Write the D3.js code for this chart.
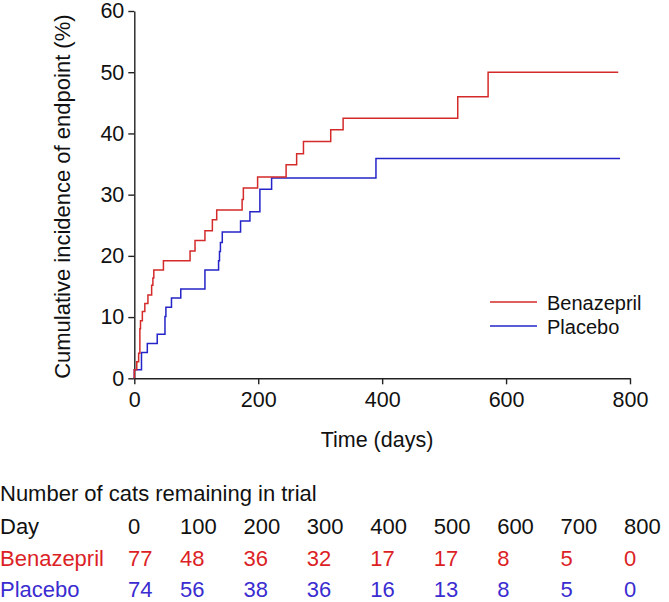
<!DOCTYPE html>
<html>
<head>
<meta charset="utf-8">
<script src="https://cdn.jsdelivr.net/npm/d3@7"></script>
<style>
  html, body { margin: 0; padding: 0; background: #fff; }
  svg text { font-family: "Liberation Sans", Arial, Helvetica, sans-serif; }
</style>
</head>
<body>
<svg id="chart" width="669" height="602"></svg>
<script>
// ---- Data ----
const benazeprilDays = [0, 0, 4, 7, 9, 10, 13, 17, 22, 28, 30, 31.5, 47, 90, 98, 114, 126, 133, 174, 176, 199, 245, 262, 273, 317, 337, 522, 571, 781];
const benazeprilPct  = [0, 1.4, 2.7, 4.1, 8.1, 9.4, 10.9, 12.2, 13.6, 15.2, 16.4, 17.7, 19.2, 20.8, 22.5, 24.1, 25.9, 27.5, 29.2, 31.1, 32.9, 34.9, 36.7, 38.7, 40.6, 42.5, 46.0, 50.0, 50.0];
const placeboDays = [0, 0, 11.6, 21, 37, 49.5, 51, 60, 75, 114, 136, 137.5, 139, 142, 171.5, 186.6, 202.7, 221.6, 390, 784];
const placeboPct  = [0, 1.4, 4.2, 5.7, 7.2, 10.1, 11.6, 13.1, 14.6, 17.7, 19.2, 20.7, 22.2, 23.9, 25.7, 27.2, 30.9, 32.7, 35.9, 35.9];

const xTicks = [0, 200, 400, 600, 800];
const yTicks = [0, 10, 20, 30, 40, 50, 60];

const seriesNames = ["Benazepril", "Placebo"];
const tableTitle = "Number of cats remaining in trial";
const tableDays = [0, 100, 200, 300, 400, 500, 600, 700, 800];
const benazeprilAtRisk = [77, 48, 36, 32, 17, 17, 8, 5, 0];
const placeboAtRisk    = [74, 56, 38, 36, 16, 13, 8, 5, 0];

// ---- Styles ----
const RED_LINE = "#d42a2a", BLUE_LINE = "#2424c8";
const RED_TEXT = "#dc1f26", BLUE_TEXT = "#3a2cd0";
const AXIS = "#222";

const svg = d3.select("#chart");
const x = d3.scaleLinear().domain([0, 800]).range([134.3, 630]);
const y = d3.scaleLinear().domain([0, 60]).range([378.3, 11]);

// Axes
const xAxis = svg.append("g").attr("transform", `translate(0,${y(0)})`)
  .call(d3.axisBottom(x).tickValues(xTicks).tickSize(6).tickPadding(7).tickSizeOuter(0));
const yAxis = svg.append("g").attr("transform", `translate(${x(0)},0)`)
  .call(d3.axisLeft(y).tickValues(yTicks).tickSize(6).tickPadding(4).tickSizeOuter(0));
[xAxis, yAxis].forEach(g => {
  g.selectAll("path, line").attr("stroke", AXIS).attr("stroke-width", 1.4);
  g.selectAll("text").attr("fill", "#111").style("font-size", "21.5px")
   .style("font-family", '"Liberation Sans", Arial, sans-serif');
});

// Axis titles
svg.append("text").attr("x", 377).attr("y", 447).attr("text-anchor", "middle")
  .style("font-size", "21.5px").attr("fill", "#111").text("Time (days)");
svg.append("text").attr("transform", `translate(70,${(y(0)+y(60))/2 + 2}) rotate(-90)`)
  .attr("text-anchor", "middle").style("font-size", "22px").attr("fill", "#111")
  .text("Cumulative incidence of endpoint (%)");

// Step lines
const line = d3.line().x(d => x(d[0])).y(d => y(d[1])).curve(d3.curveStepAfter);
const bz = benazeprilDays.map((d, i) => [d, benazeprilPct[i]]);
const pl = placeboDays.map((d, i) => [d, placeboPct[i]]);
svg.append("path").datum(pl).attr("d", line).attr("fill", "none")
  .attr("stroke", BLUE_LINE).attr("stroke-width", 1.5);
svg.append("path").datum(bz).attr("d", line).attr("fill", "none")
  .attr("stroke", RED_LINE).attr("stroke-width", 1.5);

// Legend
const legend = svg.append("g");
[[RED_LINE, 302], [BLUE_LINE, 326]].forEach(([c, ly], i) => {
  legend.append("line").attr("x1", 490).attr("x2", 537).attr("y1", ly).attr("y2", ly)
    .attr("stroke", c).attr("stroke-width", 1.5);
  legend.append("text").attr("x", 547).attr("y", ly + 7.5).style("font-size", "20px")
    .attr("fill", "#111").text(seriesNames[i]);
});

// Number-at-risk table
const colX = d3.scaleLinear().domain([0, 100, 800]).range([128, 180, 624]);
const fs = "22px";
svg.append("text").attr("x", 0).attr("y", 501).style("font-size", fs).attr("fill", "#111").text(tableTitle);
const rows = [
  { label: "Day", vals: tableDays, color: "#111", y: 534 },
  { label: seriesNames[0], vals: benazeprilAtRisk, color: RED_TEXT, y: 566 },
  { label: seriesNames[1], vals: placeboAtRisk, color: BLUE_TEXT, y: 597 }
];
rows.forEach(r => {
  svg.append("text").attr("x", 0).attr("y", r.y).style("font-size", fs).attr("fill", r.color).text(r.label);
  svg.append("g").selectAll("text").data(r.vals).join("text")
    .attr("x", (d, i) => colX(tableDays[i])).attr("y", r.y)
    .style("font-size", fs).attr("fill", r.color).text(d => d);
});
</script>
</body>
</html>
